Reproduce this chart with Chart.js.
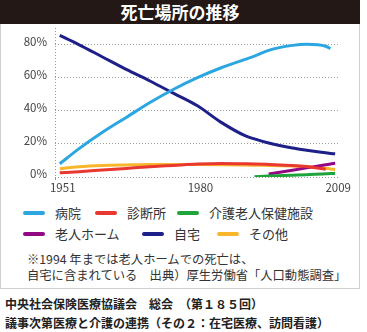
<!DOCTYPE html>
<html lang="ja">
<head>
<meta charset="utf-8">
<script src="https://cdn.jsdelivr.net/npm/chart.js@4/dist/chart.umd.min.js"></script>
<style>
    body { margin: 0; width: 367px; height: 332px; background: #fff; position: relative;
           font-family: "Noto Sans CJK JP", sans-serif; color: #333; overflow: hidden; }
    .title { position: absolute; left: 0; top: 0; width: 360px; height: 24px; background: #231815;
             color: #fff; font-size: 17px; font-weight: bold; line-height: 24px; text-align: center; }
    .frame { position: absolute; left: 0; top: 24px; width: 360px; height: 265px; box-sizing: border-box;
             border: 1px solid #cfcfcf; border-top: none; }
    #chart { position: absolute; left: 0; top: 25px; }
    .legend-item { position: absolute; display: flex; align-items: center; font-size: 13px; line-height: 16px; white-space: nowrap; }
    .legend-item i { display: inline-block; width: 22px; height: 4px; border-radius: 2px; margin-right: 10px; }
    .note { position: absolute; left: 27px; top: 251px; font-size: 12.3px; line-height: 16px; white-space: nowrap; }
    .source { position: absolute; left: 5px; top: 294px; font-size: 12px; line-height: 19px; font-weight: bold;
              color: #222; white-space: nowrap; }
</style>
</head>
<body>
<div class="title">死亡場所の推移</div>
<div class="frame"></div>
<canvas id="chart" width="360" height="172"></canvas>
<div id="legend"></div>
<div class="note">※1994 年までは老人ホームでの死亡は、<br>自宅に含まれている　出典）厚生労働省「人口動態調査」</div>
<div class="source">中央社会保険医療協議会　総会　（第１８５回）<br>議事次第医療と介護の連携（その２：在宅医療、訪問看護）</div>
<script>
// 年（横軸）
const years = [1951, 1955, 1960, 1965, 1970, 1975, 1980, 1985, 1990, 1992, 1995, 2000, 2003, 2007, 2008, 2009];
const xTicks = [1951, 1980, 2009];
const yTicks = [0, 20, 40, 60, 80];

// 死亡場所別の割合（%）
const hospital = [8, 17, 27, 36, 45, 53, 60, 66, 71, 73, 76.5, 79.5, 80.2, 79, 77.5, null];
const clinic = [2.5, 3.2, 4.2, 5.2, 6.2, 7, 7.8, 8.2, 8, 7.9, 7.6, 7, 6.3, 4.7, null, null];
const careFacility = [null, null, null, null, null, null, null, null, null, 0.2, 0.6, 1.1, 1.4, 1.9, 2.1, 2.2];
const nursingHome = [null, null, null, null, null, null, null, null, null, null, 1.8, 4.1, 5.5, 7.4, 7.9, 8.3];
const home = [85.5, 80, 72.5, 65, 58, 50.5, 43, 33, 25, 23, 20.5, 17.5, 16.2, 14.6, 14.2, 14];
const other = [5, 6.2, 7, 7.3, 7.5, 7.5, 7.5, 7.4, 7.2, 7.1, 7, 6.6, 6.2, 5.3, 4.9, 4.6];

const seriesNames = ['病院', '診断所', '介護老人保健施設', '老人ホーム', '自宅', 'その他'];
const seriesValues = [hospital, clinic, careFacility, nursingHome, home, other];
const seriesColors = ['#2ca6e0', '#e8382f', '#1fa33b', '#920783', '#1d2088', '#f8b62d'];

const tickFont = { family: '"Noto Sans CJK JP", sans-serif', size: 11.5 };
const gridColor = '#9a9a9a';

const datasets = seriesNames.map((name, i) => ({
    label: name,
    data: years.map((yr, j) => ({ x: yr, y: seriesValues[i][j] })),
    borderColor: seriesColors[i],
    borderWidth: 3,
    pointRadius: 0,
    fill: false,
    cubicInterpolationMode: 'monotone',
}));

// 軸ラベル分の自動余白を消して描画領域を固定する
function noAutoPadding(scale) {
    scale.paddingTop = 0;
    scale.paddingBottom = 0;
    scale.paddingLeft = 0;
    scale.paddingRight = 0;
}

new Chart(document.getElementById('chart'), {
    type: 'line',
    data: { datasets },
    options: {
        responsive: false,
        animation: false,
        layout: { padding: { top: 3, right: 22, left: 0, bottom: 0 } },
        plugins: { legend: { display: false }, tooltip: { enabled: false } },
        scales: {
            x: {
                type: 'linear',
                min: 1950,
                max: 2009.6,
                afterBuildTicks: (scale) => {
                    // 1950 は縦軸の点線用（ラベルなし）
                    scale.ticks = [1950, ...xTicks].map((v) => ({ value: v }));
                },
                afterFit: (scale) => { scale.height = 20; noAutoPadding(scale); },
                grid: {
                    color: (ctx) => (ctx.tick && ctx.tick.value === 1950 ? gridColor : 'transparent'),
                    tickLength: 3,
                },
                border: { display: false, dash: [1, 2] },
                ticks: {
                    font: tickFont,
                    color: '#444',
                    padding: 1,
                    labelOffset: 3,
                    maxRotation: 0,
                    autoSkip: false,
                    callback: (v) => (v === 1950 ? '' : String(v)),
                },
            },
            y: {
                min: 0,
                max: 90,
                afterBuildTicks: (scale) => {
                    scale.ticks = yTicks.map((v) => ({ value: v }));
                },
                afterFit: (scale) => { scale.width = 55; noAutoPadding(scale); },
                grid: { color: gridColor, drawTicks: false },
                border: { display: false, dash: [1, 2] },
                ticks: {
                    font: tickFont,
                    color: '#444',
                    padding: 8,
                    labelOffset: -3,
                    callback: (v) => v + '%',
                },
            },
        },
    },
});

// 凡例（2 段）
const legendSlots = [[23, 205], [95, 205], [177, 205], [23, 226], [142, 226], [217, 226]];
const legend = document.getElementById('legend');
seriesNames.forEach((name, i) => {
    const item = document.createElement('div');
    item.className = 'legend-item';
    item.style.left = legendSlots[i][0] + 'px';
    item.style.top = legendSlots[i][1] + 'px';
    item.innerHTML = `<i style="background:${seriesColors[i]}"></i>${name}`;
    legend.appendChild(item);
});
</script>
</body>
</html>
